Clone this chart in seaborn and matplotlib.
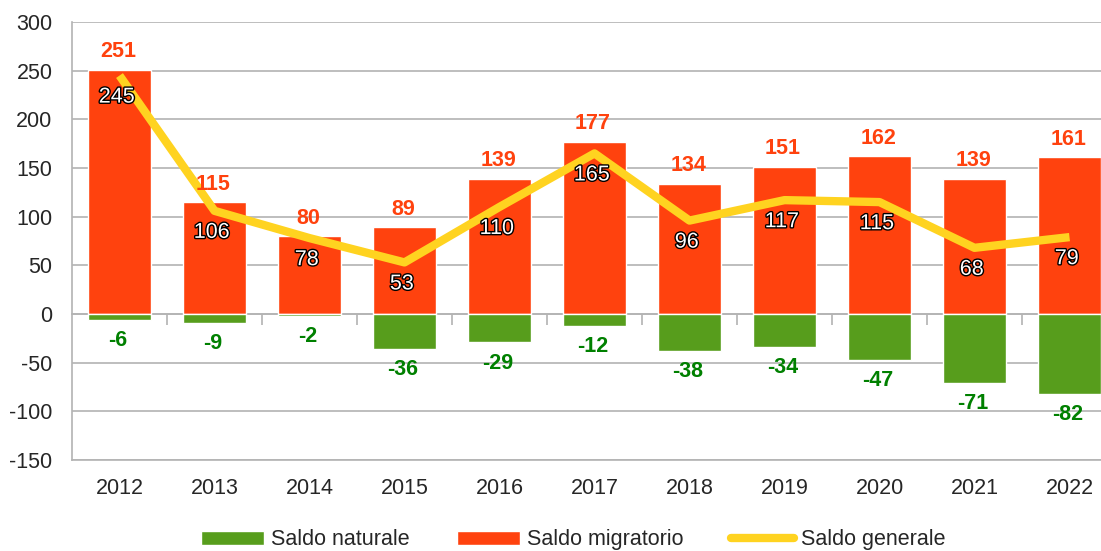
import numpy as np
import pandas as pd
import matplotlib
matplotlib.use('Agg')
import matplotlib.pyplot as plt
import matplotlib.patheffects as pe
from matplotlib.patches import Patch
from matplotlib.lines import Line2D
import seaborn as sns

anni = ['2012', '2013', '2014', '2015', '2016', '2017', '2018', '2019', '2020', '2021', '2022']
saldo_naturale = [-6, -9, -2, -36, -29, -12, -38, -34, -47, -71, -82]
saldo_migratorio = [251, 115, 80, 89, 139, 177, 134, 151, 162, 139, 161]
saldo_generale = [245, 106, 78, 53, 110, 165, 96, 117, 115, 68, 79]

VERDE = '#579d1c'
ROSSO = '#ff420e'
GIALLO = '#ffd320'
GRIGIO = '#b3b3b3'

df = pd.DataFrame({'anno': anni, 'naturale': saldo_naturale,
                   'migratorio': saldo_migratorio, 'generale': saldo_generale})

sns.set_style('white')
plt.rcParams['font.family'] = ['Liberation Sans', 'DejaVu Sans']
plt.rcParams['axes.unicode_minus'] = False

fig = plt.figure(figsize=(11.01, 5.51), dpi=100)
ax = fig.add_axes([0.0654, 0.1652, 0.9346, 0.7948])

sns.barplot(data=df, x='anno', y='migratorio', color=ROSSO, width=0.67,
            saturation=1, errorbar=None, ax=ax, zorder=2)
sns.barplot(data=df, x='anno', y='naturale', color=VERDE, width=0.67,
            saturation=1, errorbar=None, ax=ax, zorder=2)
sns.lineplot(x=np.arange(len(anni)), y=df['generale'], color=GIALLO, linewidth=6,
             ax=ax, zorder=3, solid_capstyle='butt', solid_joinstyle='round')

# etichette dei valori
for i in range(len(anni)):
    ax.annotate(str(saldo_migratorio[i]), (i, saldo_migratorio[i]), xytext=(-1, 13),
                textcoords='offset points', ha='center', va='center',
                color=ROSSO, fontsize=15.5, fontweight='bold', zorder=5)
    ax.annotate(str(saldo_naturale[i]), (i, saldo_naturale[i]), xytext=(-1, -15),
                textcoords='offset points', ha='center', va='center',
                color='#008000', fontsize=15.5, fontweight='bold', zorder=5)
    t = ax.annotate(str(saldo_generale[i]), (i, saldo_generale[i]), xytext=(-2, -15.5),
                    textcoords='offset points', ha='center', va='center',
                    color='white', fontsize=15.5, zorder=5)
    t.set_path_effects([pe.withStroke(linewidth=2, foreground='black')])

ax.set_ylim(-150, 300)
ax.set_yticks(np.arange(-150, 301, 50))
ax.set_xlim(-0.5, -0.5 + (1101 - 72) / 95)
ax.set_xlabel('')
ax.set_ylabel('')

ax.yaxis.grid(True, color=GRIGIO, linewidth=1.2)
ax.set_axisbelow(True)
for s in ['top', 'right']:
    ax.spines[s].set_visible(False)
ax.spines['left'].set_color(GRIGIO)
ax.spines['left'].set_linewidth(1.2)
ax.spines['bottom'].set_color(GRIGIO)
ax.spines['bottom'].set_linewidth(1.2)

ax.tick_params(axis='y', length=8, color=GRIGIO, width=1.2, pad=6, labelsize=15.5)
ax.tick_params(axis='x', length=0, pad=13, labelsize=15.5)

# asse dello zero con tacche tra le categorie
sec = ax.secondary_xaxis(1 / 3)
sec.set_xticks(np.arange(0.5, len(anni), 1))
sec.set_xticklabels([])
sec.tick_params(length=8, color=GRIGIO, width=1.2, direction='out')
sec.spines['bottom'].set_color(GRIGIO)
sec.spines['bottom'].set_linewidth(1.2)

handles = [Patch(facecolor=VERDE, label='Saldo naturale'),
           Patch(facecolor=ROSSO, label='Saldo migratorio'),
           Line2D([0], [0], color=GIALLO, linewidth=6, label='Saldo generale')]
fig.legend(handles=handles, loc='center', bbox_to_anchor=(0.521, 0.02), ncol=3,
           frameon=False, fontsize=15.5, handlelength=2.9, handleheight=0.6,
           handletextpad=0.35, columnspacing=2.2)

fig.savefig('out.png', dpi=100)
